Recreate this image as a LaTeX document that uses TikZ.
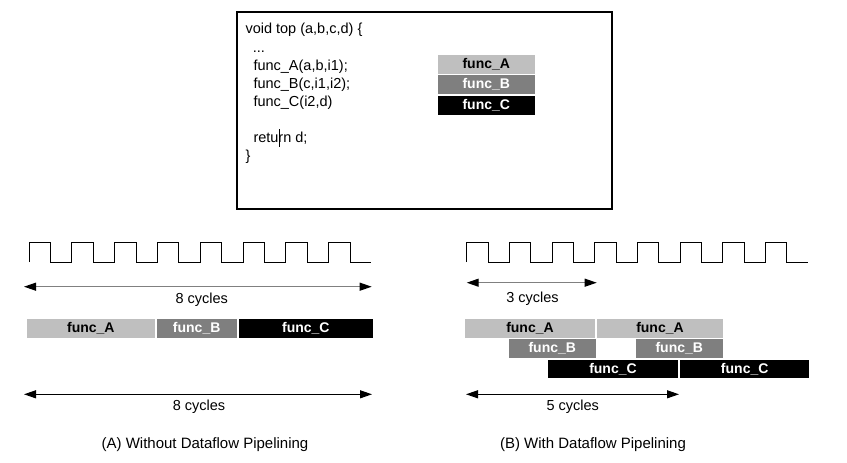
\documentclass[tikz,border=0pt]{standalone}
\usepackage{fontspec}
\setmainfont{Liberation Sans}
\usetikzlibrary{arrows.meta}
\definecolor{lgray}{HTML}{BFBFBF}
\definecolor{mgray}{HTML}{7F7F7F}
\definecolor{agray}{HTML}{808080}
\tikzset{
  bar/.style={inner sep=0pt, outer sep=0pt, minimum height=18.7pt, font=\fontsize{14}{16}\selectfont\bfseries},
  barA/.style={bar, fill=lgray, text=black},
  barB/.style={bar, fill=mgray, text=white},
  barC/.style={bar, fill=black, text=white},
  codeline/.style={anchor=base west, inner sep=0pt, font=\fontsize{14.5}{17}\selectfont},
  lbl/.style={anchor=base, inner sep=0pt, font=\fontsize{14.5}{17}\selectfont},
  caption/.style={inner sep=0pt, font=\fontsize{15}{17}\selectfont},
  clk/.style={line width=1pt, line join=miter},
  dimarrow/.style={{Triangle[length=12pt,width=8pt,color=black]}-{Triangle[length=12pt,width=8pt,color=black]}, line width=1.1pt}
}
\begin{document}
\begin{tikzpicture}[x=1pt,y=-1pt]
\useasboundingbox (0,0) rectangle (847,463);
% code box
\draw[line width=2pt] (237.3,11.7) rectangle (612,209.3);
\node[codeline] (c0) at (245.3,34) {void top (a,b,c,d) \{};
\node[codeline] (c1) at (252.7,52) {...};
\node[codeline] (c2) at (253.3,70) {func\_A(a,b,i1);};
\node[codeline] (c3) at (253.3,88) {func\_B(c,i1,i2);};
\node[codeline] (c4) at (253.3,106) {func\_C(i2,d)};
\node[codeline] (c5) at (253.3,142) {return d;};
\node[codeline] (c6) at (245.3,160) {\}};
\draw[line width=1pt] (279.3,129) -- (279.3,146.7);
% legend
\node[barA, minimum width=97.3pt] (legA) at (486.3,64.7) {func\_A};
\node[barB, minimum width=97.3pt] (legB) at (486.3,84.7) {func\_B};
\node[barC, minimum width=97.3pt] (legC) at (486.3,105.2) {func\_C};
% left clock
\draw[clk] (29,262) foreach \i in {0,...,7} { -- ++(0,-20) -- ++(21.4,0) -- ++(0,20) -- ++(21.4,0) };
% right clock
\draw[clk] (466.7,262) foreach \i in {0,...,7} { -- ++(0,-20) -- ++(21.35,0) -- ++(0,20) -- ++(21.35,0) };
% left dimension arrows
\coordinate (l1s) at (24,286.7);
\coordinate (l1e) at (371.7,286.7);
\draw[dimarrow, draw=agray] (l1s) -- (l1e);
\node[lbl] (l1t) at (201.7,303.3) {8 cycles};
\coordinate (l2s) at (24,394.3);
\coordinate (l2e) at (372,394.3);
\draw[dimarrow] (l2s) -- (l2e);
\node[lbl] (l2t) at (199,410) {8 cycles};
% left bars
\node[barA, minimum width=128.3pt] (lA) at (90.85,328.3) {func\_A};
\node[barB, minimum width=80pt] (lB) at (196.7,328.3) {func\_B};
\node[barC, minimum width=133.7pt] (lC) at (305.85,328.3) {func\_C};
% right dimension arrows
\coordinate (r1s) at (466.7,282.7);
\coordinate (r1e) at (596.7,282.7);
\draw[dimarrow, draw=agray] (r1s) -- (r1e);
\node[lbl] (r1t) at (532.5,302.3) {3 cycles};
\coordinate (r2s) at (466,394.3);
\coordinate (r2e) at (679,394.3);
\draw[dimarrow] (r2s) -- (r2e);
\node[lbl] (r2t) at (572.7,410) {5 cycles};
% right bars
\node[barA, minimum width=130pt] (rA1) at (530,328.3) {func\_A};
\node[barA, minimum width=125.4pt] (rA2) at (660,328.3) {func\_A};
\node[barB, minimum width=86.7pt] (rB1) at (552.3,348.3) {func\_B};
\node[barB, minimum width=86.7pt] (rB2) at (679.3,348.3) {func\_B};
\node[barC, minimum width=129.4pt, minimum height=17.7pt] (rC1) at (613,368.8) {func\_C};
\node[barC, minimum width=129.3pt, minimum height=17.7pt] (rC2) at (744.7,368.8) {func\_C};
% captions
\node[caption] (capA) at (205,445) {(A) Without Dataflow Pipelining};
\node[caption] (capB) at (593,445) {(B) With Dataflow Pipelining};
\end{tikzpicture}
\end{document}
